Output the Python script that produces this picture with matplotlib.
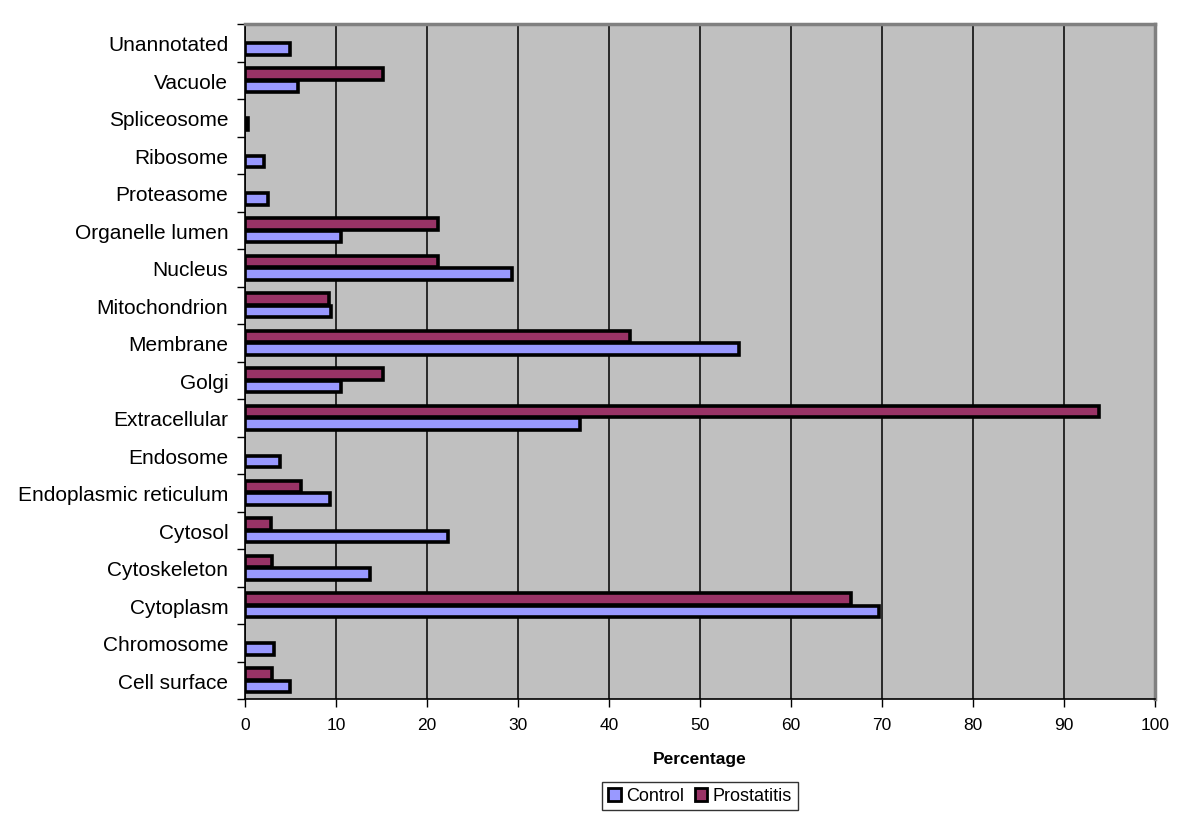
import numpy as np
import matplotlib
matplotlib.use("Agg")
import matplotlib.pyplot as plt
from matplotlib.patches import Patch

plt.rcParams['font.family'] = ['Liberation Sans', 'DejaVu Sans']

# categories from bottom to top
categories = ["Cell surface", "Chromosome", "Cytoplasm", "Cytoskeleton", "Cytosol",
              "Endoplasmic reticulum", "Endosome", "Extracellular", "Golgi", "Membrane",
              "Mitochondrion", "Nucleus", "Organelle lumen", "Proteasome", "Ribosome",
              "Spliceosome", "Vacuole", "Unannotated"]
control = [4.9, 3.2, 69.7, 13.7, 22.3, 9.3, 3.8, 36.8, 10.6, 54.3,
           9.4, 29.3, 10.5, 2.5, 2.1, 0.3, 5.8, 4.9]
prostatitis = [3.0, 0, 66.6, 3.0, 2.9, 6.1, 0, 93.8, 15.2, 42.3,
               9.2, 21.2, 21.2, 0, 0, 0, 15.2, 0]
x_ticks = list(range(0, 101, 10))

narrow = ['Liberation Sans Narrow', 'Liberation Sans']

fig = plt.figure(figsize=(11.82, 8.29), dpi=100)
ax = fig.add_axes([245 / 1182, 129 / 829, 910 / 1182, 675 / 829])
ax.set_facecolor("#C0C0C0")

y = np.arange(len(categories))
h = 0.31
lw_c = [2.6 if v > 0 else 0 for v in control]
lw_p = [2.6 if v > 0 else 0 for v in prostatitis]
ax.barh(y - h / 2 - 0.01, control, height=h, color="#9999FF",
        edgecolor="black", linewidth=lw_c, zorder=3)
ax.barh(y + h / 2 + 0.01, prostatitis, height=h, color="#993366",
        edgecolor="black", linewidth=lw_p, zorder=3)

ax.set_xlim(0, 100)
ax.set_ylim(-0.5, len(categories) - 0.5)
ax.set_xticks(x_ticks)
ax.set_xticklabels([str(t) for t in x_ticks], family=narrow, fontsize=12.5)
ax.xaxis.grid(True, color="black", linewidth=1.1, zorder=1)
ax.set_axisbelow(True)

# ticks at category borders, labels in the middle
ax.set_yticks(np.arange(len(categories) + 1) - 0.5)
ax.set_yticklabels([])
ax.set_yticks(y, minor=True)
ax.set_yticklabels(categories, minor=True, fontsize=15)
ax.tick_params(axis="y", which="minor", length=0, pad=12)
ax.tick_params(axis="y", which="major", length=6, width=1, direction="out")
ax.tick_params(axis="x", length=6, width=1, direction="out", pad=7)

for s in ["left", "bottom"]:
    ax.spines[s].set_color("black")
    ax.spines[s].set_linewidth(1.2)
for s in ["top", "right"]:
    ax.spines[s].set_color("#808080")
    ax.spines[s].set_linewidth(2.5)

ax.set_xlabel("Percentage", fontsize=12.5, fontweight="bold",
              family=narrow, labelpad=14)

handles = [Patch(facecolor="#9999FF", edgecolor="black", linewidth=2),
           Patch(facecolor="#993366", edgecolor="black", linewidth=2)]
leg = fig.legend(handles, ["Control", "Prostatitis"], loc="center",
                 bbox_to_anchor=(700 / 1182, 1 - 797 / 829), ncol=2, fontsize=13,
                 frameon=True, fancybox=False, edgecolor="black",
                 handlelength=0.7, handleheight=0.7, handletextpad=0.3,
                 columnspacing=0.6, borderpad=0.3)
leg.get_frame().set_linewidth(1.0)

fig.savefig("out.png", dpi=100)
